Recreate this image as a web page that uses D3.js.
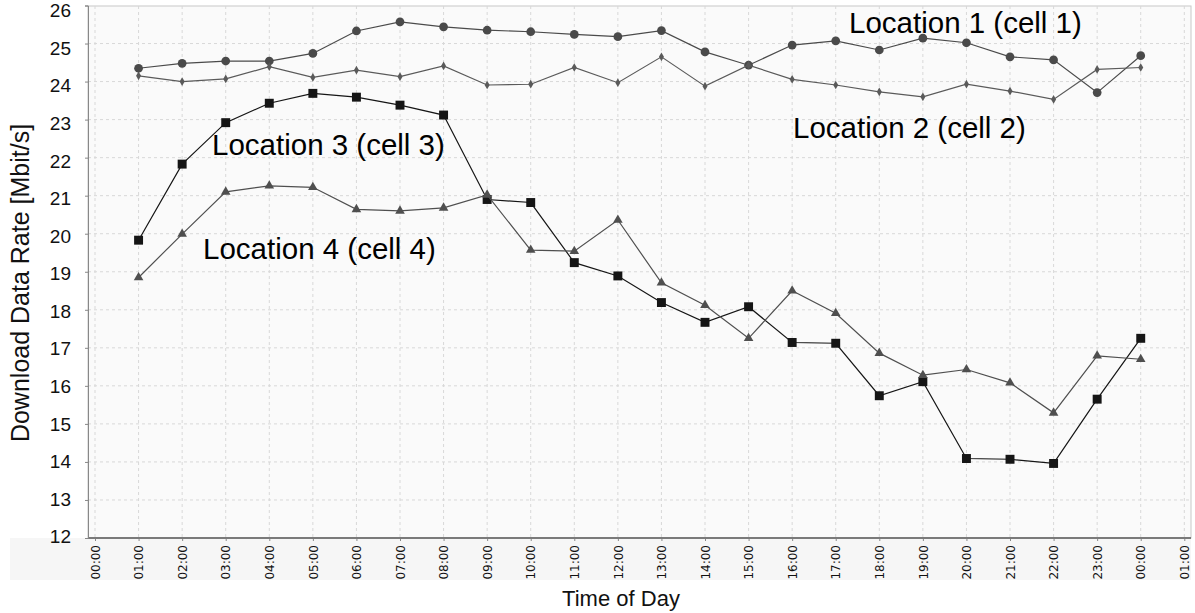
<!DOCTYPE html>
<html>
<head>
<meta charset="utf-8">
<script src="https://cdn.jsdelivr.net/npm/d3@7"></script>
<style>
  body { margin: 0; background: #ffffff; }
  svg { display: block; }
</style>
</head>
<body>
<script>
// tick labels on the time axis (00:00 .. 01:00 next day)
var hourLabels = ["00:00","01:00","02:00","03:00","04:00","05:00","06:00","07:00","08:00",
  "09:00","10:00","11:00","12:00","13:00","14:00","15:00","16:00","17:00","18:00",
  "19:00","20:00","21:00","22:00","23:00","00:00","01:00"];
var yTicks = [12,13,14,15,16,17,18,19,20,21,22,23,24,25,26];

// measurements at 01:00 .. 00:00 (axis positions 1..24)
var loc1 = [24.35,24.48,24.54,24.54,24.74,25.33,25.57,25.44,25.35,25.31,25.24,25.18,
  25.34,24.78,24.43,24.96,25.07,24.83,25.14,25.02,24.65,24.57,23.71,24.68];
var loc2 = [24.15,24.00,24.07,24.39,24.11,24.30,24.13,24.41,23.91,23.93,24.37,23.97,
  24.65,23.88,24.43,24.06,23.91,23.73,23.60,23.93,23.75,23.53,24.32,24.37];
var loc3 = [19.83,21.83,22.92,23.43,23.69,23.59,23.38,23.12,20.90,20.82,19.24,18.89,
  18.19,17.67,18.08,17.14,17.12,15.74,16.11,14.09,14.07,13.96,15.65,17.25];
var loc4 = [18.85,19.99,21.10,21.26,21.22,20.64,20.60,20.68,21.02,19.57,19.54,20.36,
  18.71,18.12,17.25,18.50,17.91,16.86,16.28,16.43,16.08,15.29,16.79,16.70];

function drawChart() {
  var w = 1195, h = 613;
  // plot area
  var left = 88, right = 1191, top = 6, bottom = 538;

  var svg = d3.select("body").append("svg")
    .attr("width", w)
    .attr("height", h);

  var xScale = d3.scaleLinear()
    .domain([0, hourLabels.length - 1])
    .range([95, 1184.3]);
  var yScale = d3.scaleLinear()
    .domain([12, 26])
    .range([bottom, top - 0.5]);
  // the value labels sit a bit inside the grid at both ends
  var yLabelScale = d3.scaleLinear()
    .domain([12, 26])
    .range([536, 10]);

  // backgrounds
  svg.append("rect")
    .attr("x", 10).attr("y", bottom).attr("width", right - 10).attr("height", 42)
    .attr("fill", "#f6f6f6");
  svg.append("rect")
    .attr("x", left).attr("y", top).attr("width", right - left).attr("height", bottom - top)
    .attr("fill", "#fafafa")
    .attr("stroke", "#c8c8c8");

  // grid
  svg.append("g").selectAll("line")
    .data(hourLabels.map((d, i) => i))
    .enter().append("line")
    .attr("x1", d => xScale(d)).attr("x2", d => xScale(d))
    .attr("y1", top).attr("y2", bottom)
    .attr("stroke", "#d8d8d8")
    .attr("stroke-dasharray", "3,3");
  svg.append("g").selectAll("line")
    .data(yTicks.slice(1, -1))
    .enter().append("line")
    .attr("x1", left).attr("x2", right)
    .attr("y1", d => yScale(d)).attr("y2", d => yScale(d))
    .attr("stroke", "#d8d8d8")
    .attr("stroke-dasharray", "3,3");

  // x axis
  var xAxis = d3.axisBottom(xScale)
    .tickValues(hourLabels.map((d, i) => i))
    .tickFormat(i => hourLabels[i])
    .tickSize(3);
  var gx = svg.append("g")
    .attr("transform", "translate(0," + bottom + ")")
    .call(xAxis);
  gx.select(".domain").remove();
  gx.selectAll(".tick line").attr("stroke", "#888");
  gx.selectAll("text")
    .attr("font-family", "'DejaVu Sans', sans-serif")
    .attr("font-size", "12px")
    .attr("fill", "#111")
    .attr("text-anchor", "end")
    .attr("transform", "rotate(-90)")
    .attr("x", -7).attr("y", 0).attr("dy", "0.35em");
  svg.append("line")
    .attr("x1", left).attr("x2", right).attr("y1", bottom).attr("y2", bottom)
    .attr("stroke", "#7a7a7a").attr("stroke-width", 2);

  // y axis
  var yAxis = d3.axisLeft(yScale)
    .tickValues(yTicks)
    .tickSize(3);
  var gy = svg.append("g")
    .attr("transform", "translate(" + left + ",0)")
    .call(yAxis);
  gy.select(".domain").attr("stroke", "#888");
  gy.selectAll(".tick line").attr("stroke", "#888");
  gy.selectAll("text")
    .attr("font-family", "'Liberation Sans', Arial, sans-serif")
    .attr("font-size", "19px")
    .attr("fill", "#111")
    .attr("x", -17)
    .attr("y", d => yLabelScale(d) - yScale(d))
    .attr("dy", "0.36em");

  // axis titles
  svg.append("text")
    .attr("text-anchor", "middle")
    .attr("x", 621).attr("y", 606)
    .attr("font-family", "'Liberation Sans', Arial, sans-serif")
    .attr("font-size", "22px")
    .attr("fill", "#111")
    .text("Time of Day");
  svg.append("text")
    .attr("text-anchor", "middle")
    .attr("transform", "translate(29,283) rotate(-90)")
    .attr("font-family", "'Liberation Sans', Arial, sans-serif")
    .attr("font-size", "25px")
    .attr("fill", "#111")
    .text("Download Data Rate [Mbit/s]");

  var line = d3.line()
    .x((d, i) => xScale(i + 1))
    .y(d => yScale(d));

  var series = [
    { values: loc1, color: "#4a4a4a", symbol: d3.symbolCircle, size: 60 },
    { values: loc2, color: "#5a5a5a", symbol: d3.symbolDiamond, size: 22 },
    { values: loc3, color: "#151515", symbol: d3.symbolSquare, size: 80 },
    { values: loc4, color: "#4f4f4f", symbol: d3.symbolTriangle, size: 40 }
  ];

  series.forEach(function(s) {
    svg.append("path")
      .datum(s.values)
      .attr("d", line)
      .attr("fill", "none")
      .attr("stroke", s.color)
      .attr("stroke-width", 1.2);
    svg.append("g").selectAll("path")
      .data(s.values)
      .enter().append("path")
      .attr("transform", (d, i) => "translate(" + xScale(i + 1) + "," + yScale(d) + ")")
      .attr("d", d3.symbol().type(s.symbol).size(s.size))
      .attr("fill", s.color);
  });

  // series annotations
  var notes = [
    { text: "Location 1 (cell 1)", x: 849, y: 33 },
    { text: "Location 2 (cell 2)", x: 793, y: 138 },
    { text: "Location 3 (cell 3)", x: 212, y: 155 },
    { text: "Location 4 (cell 4)", x: 203, y: 259 }
  ];
  svg.append("g").selectAll("text")
    .data(notes)
    .enter().append("text")
    .attr("x", d => d.x).attr("y", d => d.y)
    .attr("font-family", "'Liberation Sans', Arial, sans-serif")
    .attr("font-size", "29.5px")
    .attr("fill", "#000")
    .text(d => d.text);
}

window.onload = function() {
  drawChart();
};
</script>
</body>
</html>
